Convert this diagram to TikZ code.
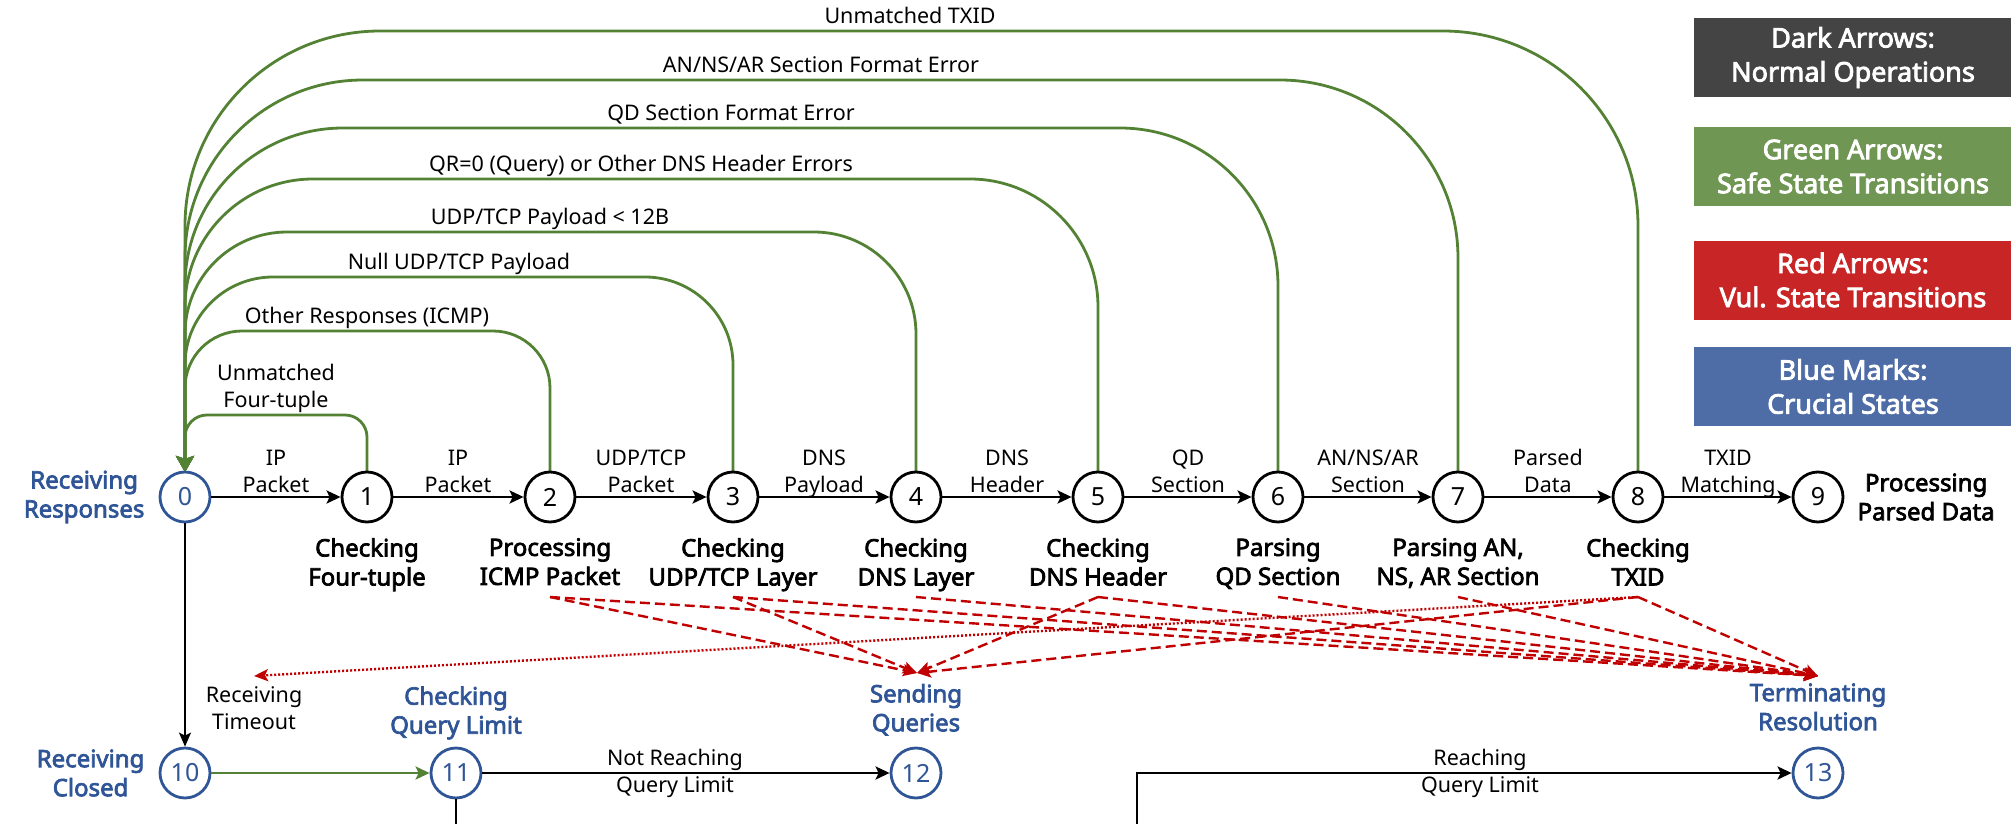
\documentclass[tikz,border=0pt]{standalone}
\usepackage{fontspec}
\setmainfont{Noto Sans}[BoldFont={Noto Sans}, BoldFeatures={FakeBold=3}]
\usetikzlibrary{arrows.meta}
\definecolor{gline}{RGB}{84,130,53}
\definecolor{bmark}{RGB}{47,85,151}
\definecolor{rline}{RGB}{192,0,0}
\definecolor{lgdark}{RGB}{68,68,68}
\definecolor{lggreen}{RGB}{112,150,83}
\definecolor{lgred}{RGB}{200,38,38}
\definecolor{lgblue}{RGB}{78,108,166}
\newcommand\fsreg{\fontsize{21.5}{27}\selectfont}
\newcommand\fsbold{\fontsize{24}{29}\selectfont\bfseries}
\newcommand\fslegend{\fontsize{27}{34}\selectfont\bfseries}
\tikzset{
 st/.style={circle, draw=black, line width=2.8pt, minimum size=50pt, inner sep=0pt, font=\fontsize{25}{25}\selectfont, fill=white},
 bst/.style={st, draw=bmark, text=bmark},
 darr/.style={draw=black, line width=2.8pt, -{Stealth[length=14pt,width=13pt,inset=3pt]}},
 thinarr/.style={draw=black, line width=2pt, -{Stealth[length=14pt,width=12pt,inset=3pt]}},
 garr/.style={draw=gline, line width=2.8pt, -{Stealth[length=16pt,width=18pt,inset=3pt]}},
 rarr/.style={draw=rline, line width=2.4pt, dash pattern=on 10pt off 5pt, -{Stealth[length=14pt,width=12pt,inset=3pt]}},
 rdot/.style={draw=rline, line width=2.4pt, dash pattern=on 2pt off 2pt, -{Stealth[length=14pt,width=12pt,inset=3pt]}},
 elab/.style={font=\fsreg, align=center, inner sep=0pt, execute at end node={\vphantom{y}}},
 slab/.style={font=\fsbold, align=center, inner sep=0pt},
 blab/.style={slab, text=bmark},
 lgd/.style={font=\fslegend, text=white, align=center, minimum width=318pt, minimum height=79pt, inner sep=0pt},
}
\begin{document}
\begin{tikzpicture}[x=1pt,y=-1pt]
\useasboundingbox (0,0) rectangle (2011,824);
\clip (0,0) rectangle (2011,824);

% legend
\node[lgd, fill=lgdark]  (lg1) at (1853,57.5)  {Dark Arrows:\\Normal Operations};
\node[lgd, fill=lggreen] (lg2) at (1853,166.5) {Green Arrows:\\Safe State Transitions};
\node[lgd, fill=lgred]   (lg3) at (1853,280)   {Red Arrows:\\Vul. State Transitions};
\node[lgd, fill=lgblue]  (lg4) at (1853,386.5) {Blue Marks:\\Crucial States};

% green arcs (drawn first)
\draw[garr, rounded corners=195pt] (1638,472) |- (185,31) -- (185,472);
\draw[garr, rounded corners=178pt] (1458,472) |- (185,80) -- (185,472);
\draw[garr, rounded corners=158pt] (1278,472) |- (185,128) -- (185,472);
\draw[garr, rounded corners=128pt] (1098,472) |- (185,179) -- (185,472);
\draw[garr, rounded corners=102pt] (916,472) |- (185,232) -- (185,472);
\draw[garr, rounded corners=88pt] (733,472) |- (185,277) -- (185,472);
\draw[garr, rounded corners=57pt] (550,472) |- (185,331) -- (185,472);
\draw[garr, rounded corners=22pt] (367,472) |- (185,415) -- (185,472);

% states
\node[bst] (n0) at (185,497) {0};
\node[st] (n1) at (367,497) {1};
\node[st] (n2) at (550,497) {2};
\node[st] (n3) at (733,497) {3};
\node[st] (n4) at (916,497) {4};
\node[st] (n5) at (1098,497) {5};
\node[st] (n6) at (1278,497) {6};
\node[st] (n7) at (1458,497) {7};
\node[st] (n8) at (1638,497) {8};
\node[st] (n9) at (1818,497) {9};
\node[bst] (n10) at (185,773) {10};
\node[bst] (n11) at (456,773) {11};
\node[bst] (n12) at (916,773) {12};
\node[bst] (n13) at (1818,773) {13};

% green arc labels
\node[elab, anchor=south] at (910,29) {Unmatched TXID};
\node[elab, anchor=south] at (821,78) {AN/NS/AR Section Format Error};
\node[elab, anchor=south] at (731,126) {QD Section Format Error};
\node[elab, anchor=south] at (641,177) {QR=0 (Query) or Other DNS Header Errors};
\node[elab, anchor=south] at (550,230) {UDP/TCP Payload < 12B};
\node[elab, anchor=south] at (459,275) {Null UDP/TCP Payload};
\node[elab, anchor=south] at (367,329) {Other Responses (ICMP)};
\node[elab, anchor=south] at (276,413) {Unmatched\\Four-tuple};

% main chain
\draw[darr] (n0) -- (n1);
\draw[darr] (n1) -- (n2);
\draw[darr] (n2) -- (n3);
\draw[darr] (n3) -- (n4);
\draw[darr] (n4) -- (n5);
\draw[darr] (n5) -- (n6);
\draw[darr] (n6) -- (n7);
\draw[darr] (n7) -- (n8);
\draw[darr] (n8) -- (n9);
\node[elab, anchor=south] at (276,498) {IP\\Packet};
\node[elab, anchor=south] at (458,498) {IP\\Packet};
\node[elab, anchor=south] at (641,498) {UDP/TCP\\Packet};
\node[elab, anchor=south] at (824,498) {DNS\\Payload};
\node[elab, anchor=south] at (1007,498) {DNS\\Header};
\node[elab, anchor=south] at (1188,498) {QD\\Section};
\node[elab, anchor=south] at (1368,498) {AN/NS/AR\\Section};
\node[elab, anchor=south] at (1548,498) {Parsed\\Data};
\node[elab, anchor=south] at (1728,498) {TXID\\Matching};

% state labels
\node[blab, anchor=east] (b0) at ([xshift=-14pt]n0.west) {Receiving\\Responses};
\node[slab, anchor=north] (l1) at (367,538) {Checking\\Four-tuple};
\node[slab, anchor=north] (l2) at (550,538) {Processing\\ICMP Packet};
\node[slab, anchor=north] (l3) at (733,538) {Checking\\UDP/TCP Layer};
\node[slab, anchor=north] (l4) at (916,538) {Checking\\DNS Layer};
\node[slab, anchor=north] (l5) at (1098,538) {Checking\\DNS Header};
\node[slab, anchor=north] (l6) at (1278,538) {Parsing\\QD Section};
\node[slab, anchor=north] (l7) at (1458,538) {Parsing AN,\\NS, AR Section};
\node[slab, anchor=north] (l8) at (1638,538) {Checking\\TXID};
\node[slab, anchor=west] (l9) at ([xshift=13pt]n9.east) {Processing\\Parsed Data};
\node[blab, anchor=east] (b10) at ([xshift=-14pt]n10.west) {Receiving\\Closed};
\node[blab, anchor=south] (b11) at ([yshift=7pt]n11.north) {Checking\\Query Limit};
\node[blab, anchor=south] (b12) at ([yshift=11pt]n12.north) {Sending\\Queries};
\node[blab, anchor=south] (b13) at ([yshift=16pt]n13.north) {Terminating\\Resolution};

% red transitions
\coordinate (sq) at (917,673);
\coordinate (tr) at (1818,676);
\coordinate (to) at (254,676);
\foreach \k in {2,3,5,8} \draw[rarr] (n\k |- 0,597) -- (sq);
\foreach \k in {2,3,4,5,6,7,8} \draw[rarr] (n\k |- 0,597) -- (tr);
\draw[rdot] (n8 |- 0,597) -- (to);

% lower part
\draw[thinarr] (n0) -- (n10);
\node[elab, anchor=north] (rt) at (254,686) {Receiving\\Timeout};
\draw[draw=gline, line width=2.8pt, -{Stealth[length=14pt,width=13pt,inset=3pt]}] (n10) -- (n11);
\draw[darr] (n11) -- (n12);
\node[elab] at (675,773) {Not Reaching\\Query Limit};
\draw[darr] (n11.south) -- (456,860) -- (1137,860) -- (1137,773) -- (n13);
\node[elab] at (1480,773) {Reaching\\Query Limit};
\end{tikzpicture}
\end{document}
